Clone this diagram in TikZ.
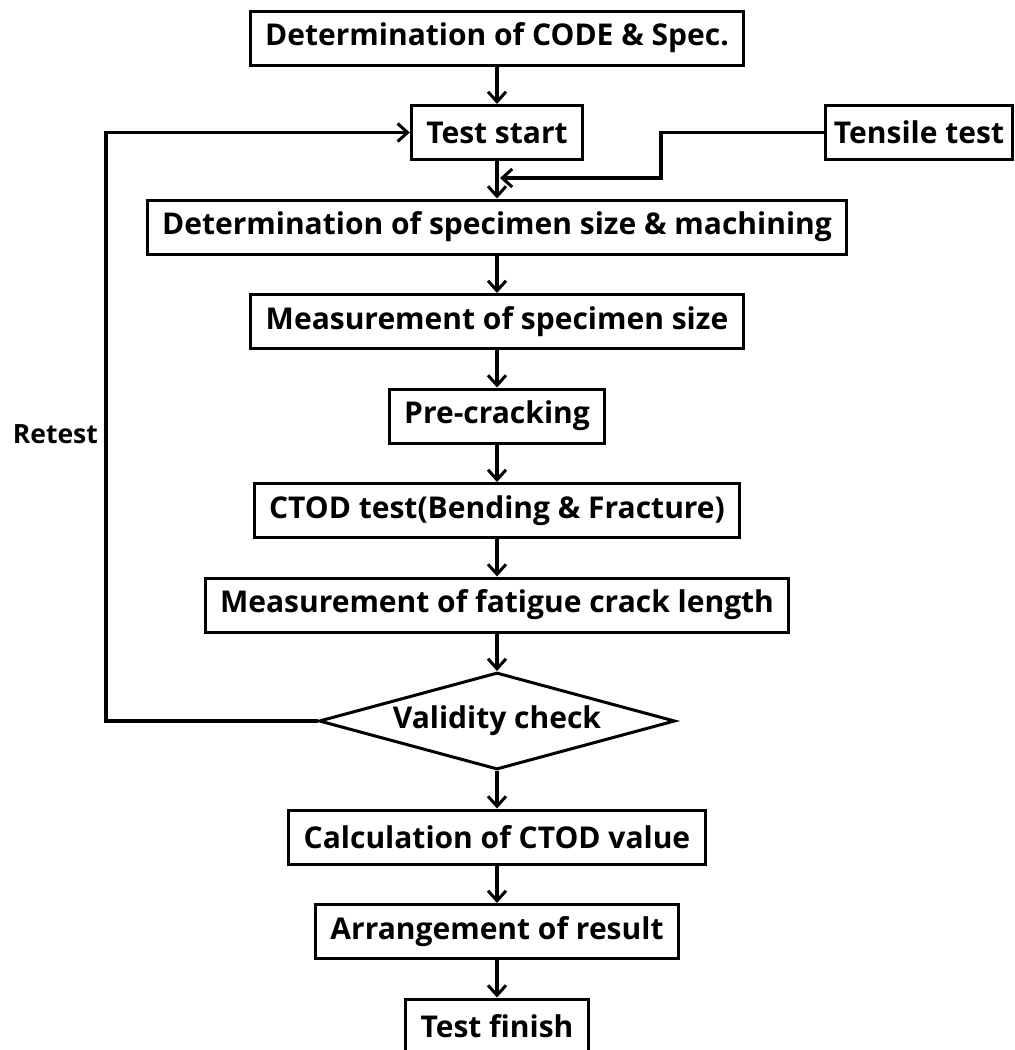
\documentclass[tikz,border=0pt]{standalone}
\usepackage{fontspec}
\setmainfont{Open Sans}
\usetikzlibrary{positioning,shapes.geometric,arrows.meta}

\tikzset{
  box/.style={draw, line width=3pt, minimum height=54pt, inner xsep=15pt,
    font=\bfseries\fontsize{30}{36}\selectfont},
  check/.style={diamond, draw, line width=3pt, aspect=3.5, minimum width=356pt,
    minimum height=97pt, inner sep=0pt, font=\bfseries\fontsize{30}{36}\selectfont},
  flow/.style={-{Straight Barb[length=10pt,width=18pt,line width=3pt]}, line width=3.5pt}
}

\begin{document}
\begin{tikzpicture}[x=1pt,y=-1pt,node distance=37.5pt]
      \useasboundingbox (0,0) rectangle (1015,1050);
      \node[box] (start) at (497,132.5) {Test start};
      \node[box,above=of start] (code) {Determination of CODE \& Spec.};
      \node[box,inner xsep=8pt] (tensile) at (919,132.5) {Tensile test};
      \node[box,below=of start] (size) {Determination of specimen size \& machining};
      \node[box,below=of size] (measure) {Measurement of specimen size};
      \node[box,below=of measure] (precrack) {Pre-cracking};
      \node[box,below=of precrack] (ctod) {CTOD test(Bending \& Fracture)};
      \node[box,below=of ctod] (crack) {Measurement of fatigue crack length};
      \node[check,below=of crack] (check) {Validity check};
      \node[box,below=of check] (calc) {Calculation of CTOD value};
      \node[box,below=of calc] (result) {Arrangement of result};
      \node[box,below=of result] (finish) {Test finish};
      \coordinate (join) at ([xshift=3pt,yshift=-17pt]start.south);
      \coordinate (kink) at (661,0);
      \coordinate (back) at (106,0);

      \draw[flow] (code) -- (start);
      \draw[flow] (start) -- (size);
      \draw[flow] (tensile.west) -- (tensile.west -| kink) |- (join);
      \draw[flow] (size) -- (measure);
      \draw[flow] (measure) -- (precrack);
      \draw[flow] (precrack) -- (ctod);
      \draw[flow] (ctod) -- (crack);
      \draw[flow] (crack) -- (check);
      \draw[flow] (check) -- (calc);
      \draw[flow] (calc) -- (result);
      \draw[flow] (result) -- (finish);
      \draw[flow] (check.west) -- (check.west -| back) |- node[pos=0.244,left=3pt,font=\bfseries\fontsize{26.5}{32}\selectfont] (retest) {Retest} (start.west);
    \end{tikzpicture}
\end{document}
